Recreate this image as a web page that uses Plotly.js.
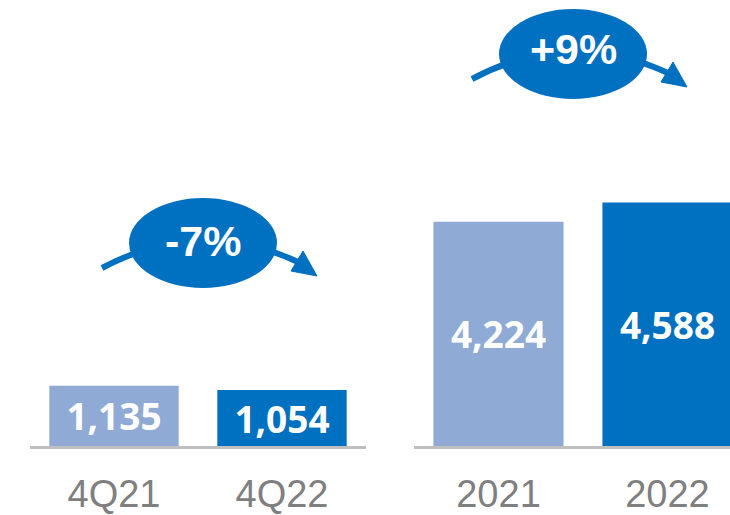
<!DOCTYPE html>
<html>
<head>
<meta charset="utf-8">
<script src="https://cdn.plot.ly/plotly-3.0.1.min.js"></script>
<style>html,body{margin:0;padding:0;background:#fff;}#chart{width:730px;height:515px;}</style>
</head>
<body>
<div id="chart"></div>
<script>
// ---- data ----
const quarterCats = ['4Q21', '4Q22'];
const quarterVals = [1135, 1054];
const yearCats = ['2021', '2022'];
const yearVals = [4224, 4588];
const changeLabels = ['-7%', '+9%'];

// ---- styles ----
const LIGHT = '#8EAAD5';
const DARK = '#0070C0';
const W = 730, H = 515, MB = 69;
const PH = H - MB; // plot height in px

// pixel -> paper helpers (decorations only)
const px = v => v / W;
const py = v => (PH - v) / PH;

const barText = {family: '"Open Sans", "DejaVu Sans", sans-serif', size: 37, color: '#FFFFFF', weight: 'bold'};

const traces = [
  {
    type: 'bar', x: quarterCats, y: quarterVals, xaxis: 'x', yaxis: 'y',
    marker: {color: [LIGHT, DARK], line: {width: 0}},
    text: quarterVals.map(v => v.toLocaleString('en-US')),
    textposition: 'inside', insidetextanchor: 'middle', constraintext: 'none',
    textfont: barText, insidetextfont: barText, hoverinfo: 'skip'
  },
  {
    type: 'bar', x: yearCats, y: yearVals, xaxis: 'x2', yaxis: 'y',
    marker: {color: [LIGHT, DARK], line: {width: 0}},
    text: yearVals.map(v => v.toLocaleString('en-US')),
    textposition: 'inside', insidetextanchor: 'middle', constraintext: 'none',
    textfont: barText, insidetextfont: barText, hoverinfo: 'skip'
  }
];

// arrow + ellipse badge, defined in pixel space relative to an origin
function badge(ox, oy) {
  const p = (x, y) => px(x + ox) + ',' + py(y + oy);
  return [
    {type: 'path', xref: 'paper', yref: 'paper',
     path: 'M' + p(102, 268) + ' Q' + p(200, 216) + ' ' + p(298, 262),
     line: {color: DARK, width: 6}, fillcolor: 'rgba(0,0,0,0)'},
    {type: 'path', xref: 'paper', yref: 'paper',
     path: 'M' + p(303, 251) + ' L' + p(317, 276) + ' L' + p(291, 271) + ' Z',
     line: {color: DARK, width: 1}, fillcolor: DARK},
    {type: 'circle', xref: 'paper', yref: 'paper',
     x0: px(129 + ox), x1: px(277 + ox), y0: py(288 + oy), y1: py(198 + oy),
     line: {color: DARK, width: 0}, fillcolor: DARK}
  ];
}

const shapes = [].concat(badge(0, 0), badge(370, -189));

const annFont = {family: 'Liberation Sans', size: 43, color: '#FFFFFF', weight: 'bold'};
const annotations = [
  {xref: 'paper', yref: 'paper', x: px(203), y: py(241), text: changeLabels[0], showarrow: false,
   xanchor: 'center', yanchor: 'middle', font: annFont},
  {xref: 'paper', yref: 'paper', x: px(573), y: py(49), text: changeLabels[1], showarrow: false,
   xanchor: 'center', yanchor: 'middle', font: annFont}
];

const tickFont = {family: 'Liberation Sans', size: 38, color: '#7F7F7F'};
const axisCommon = {
  type: 'category', showgrid: false, zeroline: false, showline: true,
  linecolor: '#BFBFBF', linewidth: 3, ticks: '', tickfont: tickFont,
  ticklabelstandoff: 12, fixedrange: true, anchor: 'y'
};

const layout = {
  width: W, height: H,
  margin: {l: 0, r: 0, t: 0, b: MB, pad: 0},
  paper_bgcolor: '#FFFFFF', plot_bgcolor: '#FFFFFF',
  showlegend: false, bargap: 0.23,
  xaxis: Object.assign({}, axisCommon, {domain: [px(30), px(366)], range: [-0.5, 1.5]}),
  xaxis2: Object.assign({}, axisCommon, {domain: [px(414), 1], range: [-0.5, 1.37]}),
  yaxis: {range: [0, 8400], visible: false, showgrid: false, zeroline: false, fixedrange: true},
  shapes: shapes, annotations: annotations
};

Plotly.newPlot('chart', traces, layout, {displayModeBar: false, staticPlot: true});
</script>
</body>
</html>
